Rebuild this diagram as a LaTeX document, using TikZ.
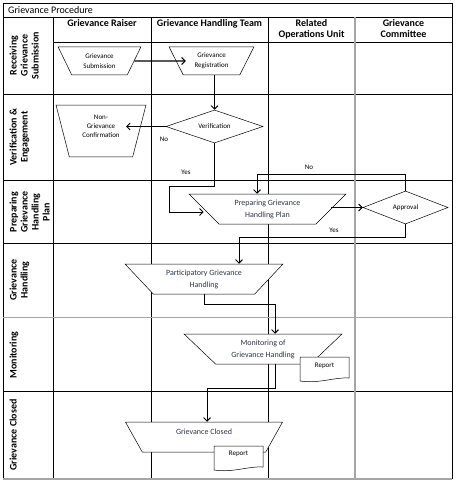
\documentclass[tikz,border=0pt]{standalone}
\usepackage{fontspec}
\setmainfont{Carlito}
\usetikzlibrary{shapes.geometric,arrows.meta,calc}
\definecolor{gridgray}{RGB}{165,165,165}
\definecolor{shapetext}{RGB}{45,52,72}
\begin{document}
\begin{tikzpicture}[x=1pt,y=-1pt,
  grid/.style={line width=0.8pt, black},
  ggrid/.style={line width=1.3pt, gridgray},
  trap/.style={draw, line width=0.5pt, fill=white, trapezium, shape border rotate=180,
    trapezium stretches=true, inner sep=1pt, align=center},
  smallt/.style={font=\fontsize{7}{10}\selectfont},
  bigt/.style={font=\fontsize{8}{12}\selectfont, text=shapetext},
  dia/.style={draw, diamond, aspect=3, inner sep=1pt, fill=white, line width=0.5pt},
  conn/.style={line width=0.9pt, -{Straight Barb[length=3.5pt,width=7pt]}},
  lbl/.style={font=\fontsize{7}{8}\selectfont, inner sep=0},
  hdr/.style={font=\bfseries\fontsize{10}{11.5}\selectfont, align=center, anchor=north, inner sep=0},
  rowl/.style={font=\bfseries\fontsize{10}{11}\selectfont, align=center, rotate=90, anchor=north, inner sep=0},
  docshape/.style={draw, fill=white, line width=0.5pt},
  ]
\useasboundingbox (0,0) rectangle (456,484);

% ---------- grid ----------
\draw[grid] (3,3) -- (452,3);
\draw[grid] (3,3) -- (3,479);
\draw[grid] (452,3) -- (452,479);
\draw[grid] (3,17) -- (452,17);
\draw[grid] (53,42) -- (452,42);
\draw[grid] (3,94) -- (452,94);
\draw[grid] (3,180.7) -- (452,180.7);
\draw[grid] (3,243) -- (452,243);
\draw[grid] (3,391.7) -- (452,391.7);
\draw[grid] (53,17) -- (53,479);
\draw[grid] (151,17) -- (151,479);
\draw[grid] (268,17) -- (268,479);
\draw[ggrid] (3,317.7) -- (452,317.7);
\draw[ggrid] (3,479) -- (452,479);
\draw[ggrid] (355,17) -- (355,479);

% ---------- title and headers ----------
\node[font=\fontsize{10}{12}\selectfont, anchor=west, inner sep=0] (title) at (8,10.5) {Grievance Procedure};
\node[hdr] (h1) at (102,19) {Grievance Raiser};
\node[hdr] (h2) at (209.5,19) {Grievance Handling Team};
\node[hdr] (h3) at (311.5,19) {Related\\Operations Unit};
\node[hdr] (h4) at (403.5,19) {Grievance\\Committee};

% ---------- row labels ----------
\node[rowl] (r1) at (9.5,55.5) {Receiving\\Grievance\\Submission};
\node[rowl] (r2) at (9.5,137) {Verification \&\\Engagement};
\node[rowl] (r3) at (9.5,212) {Preparing\\Grievance\\Handling\\Plan};
\node[rowl] (r4) at (9.5,280) {Grievance\\Handling};
\node[rowl] (r5) at (9.5,355) {Monitoring};
\node[rowl] (r6) at (9.5,435) {Grievance Closed};

% ---------- shapes ----------
\node[trap, smallt, minimum width=83, minimum height=28, trapezium angle=63.4] (sub) at (99.5,61) {Grievance\\Submission};
\node[trap, smallt, minimum width=85, minimum height=28, trapezium angle=63.4] (reg) at (211.5,61) {Grievance\\Registration};
\node[dia, smallt, minimum width=97, minimum height=33] (ver) at (214.5,126.5) {Verification};
\node[trap, smallt, minimum width=90, minimum height=51.7, trapezium angle=71.3] (ngc) at (101,131)
  {\raisebox{5pt}[\height][\depth]{\shortstack{Non-\\[1pt]Grievance\\[1pt]Confirmation}}};
\node[trap, bigt, minimum width=157, minimum height=30, trapezium angle=45] (prep) at (267.5,209) {Preparing Grievance\\Handling Plan};
\node[dia, smallt, minimum width=85, minimum height=33] (app) at (405.5,207.5) {Approval};
\node[trap, bigt, minimum width=158, minimum height=30, trapezium angle=44] (part) at (204,279) {Participatory Grievance\\Handling};
\node[trap, bigt, minimum width=158, minimum height=30, trapezium angle=44] (mon) at (263,349) {Monitoring of\\Grievance Handling};
\node[trap, bigt, minimum width=158, minimum height=30, trapezium angle=44] (clo) at (204,437)
  {\raisebox{5pt}[\height][\depth]{Grievance Closed}};

% ---------- report documents ----------
\coordinate (rep1c) at (324.5,368);
\draw[docshape] ($(rep1c)+(-24.5,-11)$) -- ($(rep1c)+(24.5,-11)$) -- ($(rep1c)+(24.5,10)$)
  .. controls ($(rep1c)+(10,9)$) and ($(rep1c)+(-6,16)$) .. ($(rep1c)+(-24.5,13)$) -- cycle;
\node[smallt, inner sep=0] (rep1) at ($(rep1c)+(0,-2)$) {Report};
\coordinate (rep2c) at (238.5,457);
\draw[docshape] ($(rep2c)+(-24.5,-11)$) -- ($(rep2c)+(24.5,-11)$) -- ($(rep2c)+(24.5,10)$)
  .. controls ($(rep2c)+(10,9)$) and ($(rep2c)+(-6,16)$) .. ($(rep2c)+(-24.5,13)$) -- cycle;
\node[smallt, inner sep=0] (rep2) at ($(rep2c)+(0,-3)$) {Report};

% ---------- connectors ----------
\draw[conn, line width=1.1pt, shorten >=-10pt] (sub.east) -- (reg.west);
\draw[conn] (ver.north |- reg.south) -- (ver.north);
\draw[conn] (ver.west) -- ($(ver.west -| ngc.center)+(25,0)$);
\coordinate (t1) at (169,186);
\draw[conn] (ver.south) |- (t1) |- ([yshift=-3pt]prep.west);
\draw[conn] (prep.east |- app.west) -- (app.west);
\coordinate (t2) at (257,174);
\draw[conn] (app.north) |- (t2) -- (t2 |- prep.north);
\coordinate (t5) at (239,237);
\draw[conn] (app.south) |- (t5) -- (t5 |- part.north);
\coordinate (t3) at (275,304);
\draw[conn] (part.south) |- (t3) -- (t3 |- mon.north);
\coordinate (t4) at (207,388);
\draw[conn] ([xshift=12pt]mon.south) |- (t4) -- (t4 |- clo.north);

% ---------- labels ----------
\node[lbl] (no1) at (164,139) {No};
\node[lbl] (yes1) at (186,172) {Yes};
\node[lbl] (no2) at (309,167) {No};
\node[lbl] (yes2) at (334,230) {Yes};
\end{tikzpicture}
\end{document}
